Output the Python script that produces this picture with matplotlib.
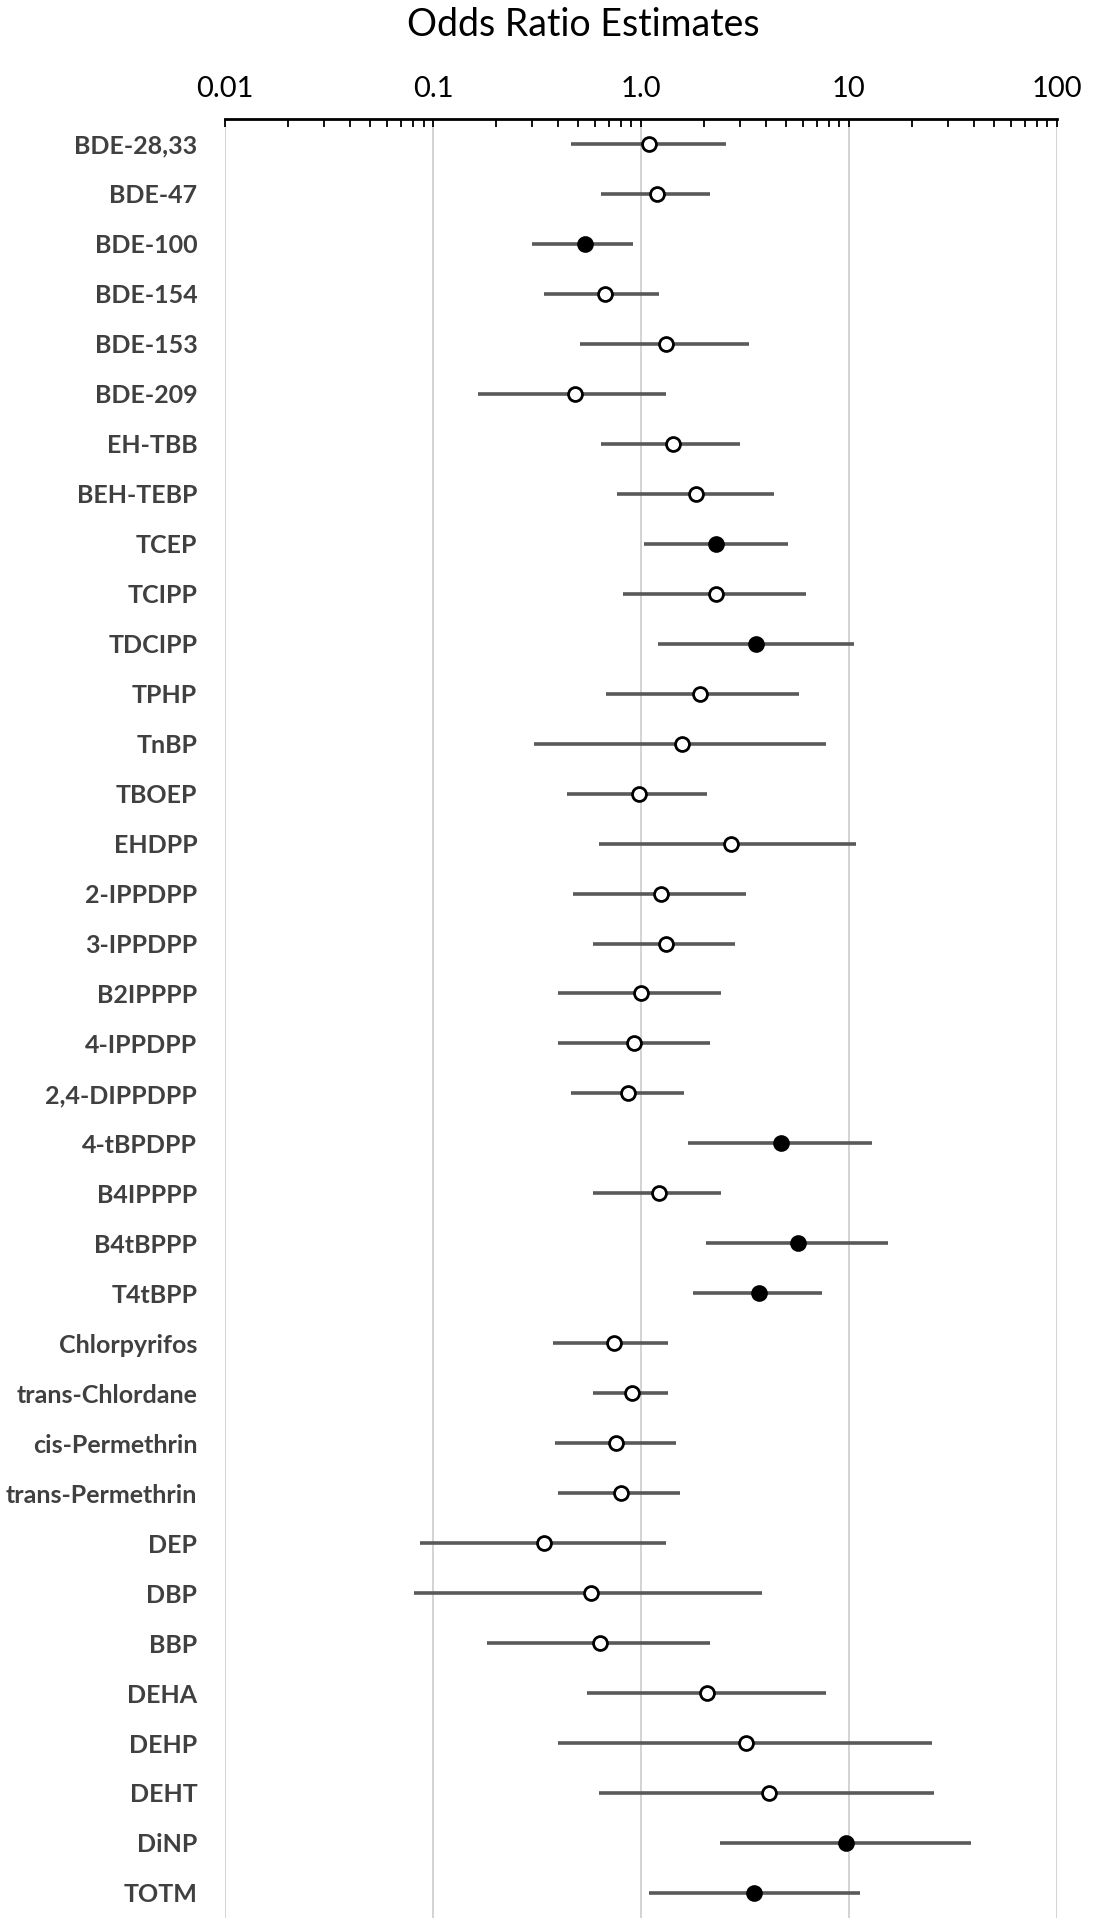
import numpy as np
import matplotlib.pyplot as plt
from matplotlib.ticker import LogLocator, FixedLocator, NullFormatter

compounds = ["BDE-28,33", "BDE-47", "BDE-100", "BDE-154", "BDE-153", "BDE-209",
             "EH-TBB", "BEH-TEBP", "TCEP", "TCIPP", "TDCIPP", "TPHP", "TnBP",
             "TBOEP", "EHDPP", "2-IPPDPP", "3-IPPDPP", "B2IPPPP", "4-IPPDPP",
             "2,4-DIPPDPP", "4-tBPDPP", "B4IPPPP", "B4tBPPP", "T4tBPP",
             "Chlorpyrifos", "trans-Chlordane", "cis-Permethrin", "trans-Permethrin",
             "DEP", "DBP", "BBP", "DEHA", "DEHP", "DEHT", "DiNP", "TOTM"]

odds = [1.09, 1.20, 0.54, 0.67, 1.32, 0.48,
        1.43, 1.84, 2.29, 2.29, 3.59, 1.93, 1.57,
        0.98, 2.70, 1.25, 1.32, 1.00, 0.93,
        0.87, 4.73, 1.22, 5.66, 3.68,
        0.74, 0.91, 0.755, 0.80,
        0.343, 0.574, 0.636, 2.08, 3.20, 4.14, 9.69, 3.51]

ci_low = [0.46, 0.64, 0.30, 0.34, 0.51, 0.164,
          0.64, 0.77, 1.03, 0.82, 1.21, 0.68, 0.305,
          0.44, 0.63, 0.47, 0.59, 0.40, 0.40,
          0.46, 1.69, 0.59, 2.05, 1.77,
          0.377, 0.59, 0.386, 0.40,
          0.087, 0.081, 0.181, 0.548, 0.40, 0.63, 2.40, 1.09]

ci_high = [2.57, 2.15, 0.92, 1.22, 3.30, 1.32,
           2.98, 4.37, 5.07, 6.21, 10.6, 5.75, 7.79,
           2.08, 10.8, 3.20, 2.82, 2.42, 2.15,
           1.61, 12.9, 2.42, 15.4, 7.38,
           1.35, 1.35, 1.47, 1.54,
           1.32, 3.83, 2.15, 7.79, 25.1, 25.5, 38.6, 11.3]

significant = [False, False, True, False, False, False,
               False, False, True, False, True, False, False,
               False, False, False, False, False, False,
               False, True, False, True, True,
               False, False, False, False,
               False, False, False, False, False, False, True, True]

fig = plt.figure(figsize=(11.07, 19.26), dpi=100)
ax = fig.add_axes([0.2033, 0.0042, 0.7515, 0.934])

ypos = np.arange(len(compounds))
for y, o, lo, hi, sig in zip(ypos, odds, ci_low, ci_high, significant):
    ax.plot([lo, hi], [y, y], color="#595959", lw=2.6, solid_capstyle="butt", zorder=2)
    ax.plot(o, y, "o", ms=10, mew=2.0, mec="black",
            mfc="black" if sig else "white", zorder=3)

ax.set_xscale("log")
ax.set_xlim(0.01, 100)
ax.set_ylim(len(compounds) - 0.5, -0.5)

ax.xaxis.tick_top()
ax.xaxis.set_major_locator(FixedLocator([0.01, 0.1, 1, 10, 100]))
ax.xaxis.set_minor_locator(LogLocator(base=10, subs=np.arange(2, 10)))
ax.xaxis.set_minor_formatter(NullFormatter())
ax.set_xticklabels(["0.01", "0.1", "1.0", "10", "100"], fontsize=21,
                   family="Lato", color="black")
ax.tick_params(axis="x", which="both", direction="in", length=6, width=1.3,
               color="black", pad=12)
ax.grid(axis="x", which="major", color="#d0d0d0", lw=1.3)
ax.set_axisbelow(True)

ax.set_yticks(ypos)
ax.set_yticklabels(compounds, fontsize=18, family="Lato", fontweight="bold",
                   color="#404040")
ax.tick_params(axis="y", length=0, pad=20)

for s in ["left", "right", "bottom"]:
    ax.spines[s].set_visible(False)
ax.spines["top"].set_linewidth(2)

fig.text(0.527, 0.987, "Odds Ratio Estimates", ha="center", va="center",
         fontsize=27, family="Lato")

fig.savefig("out.png", dpi=100)
